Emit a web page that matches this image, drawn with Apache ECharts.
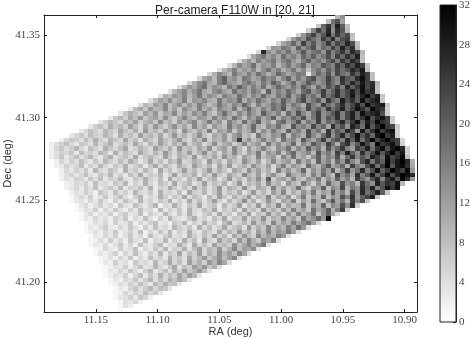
<!DOCTYPE html>
<html><head><meta charset="utf-8">
<style>html,body{margin:0;padding:0;background:#fff}#c{width:471px;height:339px}</style>
<script src="https://cdn.jsdelivr.net/npm/echarts@6/dist/echarts.min.js"></script></head>
<body><div id="c"></div><script>
const titleText='Per-camera F110W in [20, 21]';
const xName='RA (deg)', yName='Dec (deg)';
const raTicks=[11.15,11.10,11.05,11.00,10.95,10.90];
const decTicks=[41.20,41.25,41.30,41.35];
const raLimits=[10.89,11.192], decLimits=[41.182,41.3623];
const raBin=0.004, decBin=0.002658;
const colorRange=[0,32];
const rowStart=[59,57,55,53,51,49,47,45,43,41,39,37,35,33,31,29,27,25,23,21,19,17,15,13,11,9,7,5,3,1,1,1,1,2,2,3,3,3,4,4,5,5,5,6,6,7,7,8,8,8,9,9,9,10,10,11,11,12,12,12,13,13,14,14,14,15,15,15];
const rowValues=[
[9,14],
[8,18,22,12],
[7,19,25,16,28,20,8],
[6,15,24,18,27,14,26,21,9],
[6,13,19,24,16,21,28,17,25,19,23,8],
[5,12,17,14,22,18,15,24,19,27,16,22,24,7],
[5,11,14,19,13,24,16,21,14,18,25,17,23,20,27,22,8],
[5,13,12,17,15,11,20,14,18,22,13,19,16,24,18,28,21,26,9],
[5,27,14,11,16,13,18,12,15,21,14,17,19,13,23,16,20,25,18,27,23,9],
[4,11,14,17,12,15,11,18,13,16,12,19,15,20,14,17,22,15,24,19,26,21,28,8],
[4,10,13,9,16,12,14,17,11,15,18,13,10,16,20,14,17,13,19,23,16,25,20,27,24,8],
[4,9,15,11,13,18,10,14,12,16,9,13,17,12,15,19,11,16,14,21,18,15,24,19,26,22,28,24,7],
[4,9,12,16,10,13,11,15,9,14,18,12,16,10,13,17,11,15,8,14,18,13,20,16,23,18,21,27,24,29,8],
[5,10,15,12,9,17,13,11,16,12,18,14,10,13,19,15,11,14,17,16,3,13,19,15,21,14,23,18,16,25,20,28,24,8],
[5,11,13,9,16,20,12,14,10,17,15,11,13,18,14,16,10,15,20,12,17,13,19,22,14,16,24,18,15,26,21,19,27,30,24,8],
[5,10,14,17,11,9,16,19,13,12,10,15,18,14,11,17,13,20,16,10,14,19,12,15,21,17,13,16,23,18,14,25,20,27,22,29,24,26,9],
[4,9,13,11,15,18,10,14,12,9,17,13,20,15,11,16,12,18,10,14,19,15,12,17,13,21,16,11,19,14,22,18,24,16,27,20,25,30,23,27,8],
[4,9,12,15,10,13,17,11,9,14,16,12,10,18,13,15,11,17,14,9,20,12,16,13,19,15,11,18,21,14,17,24,16,20,26,19,23,28,22,30,25,27,8],
[4,10,8,13,11,15,9,12,17,10,14,12,9,16,13,11,18,14,10,15,12,19,13,11,17,14,20,12,16,22,15,18,13,24,17,21,26,19,23,29,21,27,31,24,28,7],
[4,8,12,10,14,9,11,16,8,13,12,15,10,9,17,11,14,13,19,10,15,12,18,14,11,16,13,20,15,12,18,23,14,17,21,13,25,19,16,28,22,26,20,30,24,27,29,7],
[4,9,7,12,10,15,8,11,14,9,13,10,16,12,8,11,17,13,10,15,12,19,14,9,16,11,13,18,15,20,12,17,14,10,22,16,13,24,18,15,21,26,19,23,28,22,31,25,27,29,7],
[3,8,11,7,13,9,10,15,8,12,7,14,11,9,16,10,13,8,15,12,11,17,9,14,19,13,10,16,12,18,15,21,11,14,17,13,23,16,20,15,25,18,22,28,19,24,30,26,21,31,27,25,6],
[3,7,10,8,6,12,9,13,7,11,10,15,8,12,9,14,11,16,10,7,13,18,12,9,15,11,17,13,10,20,14,12,16,9,19,13,22,15,11,18,24,14,17,21,26,16,23,28,20,30,25,27,29,22,6],
[3,7,9,6,11,8,13,7,10,12,8,14,9,6,11,15,10,8,13,12,9,16,11,14,10,18,13,8,15,12,17,11,14,20,10,16,13,19,15,22,12,17,24,14,21,18,26,16,23,28,20,25,31,22,27,30,24,6],
[3,6,9,7,5,10,8,12,6,9,11,7,14,8,10,6,13,9,12,15,8,11,17,10,13,7,16,12,9,18,11,14,20,10,13,8,16,19,12,15,22,11,17,14,24,13,19,16,21,27,18,25,30,20,28,23,31,26,24,6],
[3,6,8,5,10,7,9,6,12,8,5,11,7,13,9,6,10,14,8,11,7,15,9,12,6,13,10,8,17,11,14,9,12,19,10,8,15,13,18,11,9,21,14,16,12,23,15,19,11,26,17,22,14,28,24,18,30,21,27,32,25,23,6],
[3,5,8,6,4,9,7,5,11,8,6,10,5,13,7,9,6,12,8,10,5,14,9,7,11,8,16,6,12,10,15,7,13,9,11,18,8,14,10,17,12,9,20,13,16,11,22,14,18,10,25,15,21,17,27,23,13,29,20,26,32,24,28,30,6],
[3,5,7,4,8,6,5,9,7,4,10,6,8,5,12,7,9,6,11,5,8,13,7,10,6,9,14,8,5,11,9,13,7,12,15,8,10,6,17,11,9,14,12,19,8,16,13,10,22,15,11,18,25,14,20,27,17,23,30,21,26,19,29,32,25,28,6],
[2,5,7,6,4,8,5,10,6,4,9,7,5,11,6,8,4,10,7,5,12,8,6,9,13,7,5,11,8,15,6,10,9,13,7,12,24,9,14,8,11,16,10,13,7,18,12,15,9,21,14,11,17,24,13,19,22,16,27,20,29,18,25,31,23,28,32,26,24,5],
[2,4,6,8,5,3,7,6,4,9,5,7,10,4,6,8,5,11,7,4,9,6,12,8,5,10,7,13,6,9,11,5,8,14,7,10,12,6,9,15,8,11,13,7,17,10,14,9,12,19,8,15,11,21,16,13,24,18,10,22,26,15,20,29,23,17,31,25,27,30,24,6],
[2,5,7,4,6,9,5,3,8,6,4,10,7,5,8,11,4,6,9,7,5,12,8,6,10,5,13,7,9,6,11,8,14,6,10,12,7,15,9,5,13,8,11,16,10,7,14,12,18,9,15,11,20,13,17,10,22,14,19,25,16,12,24,21,28,18,26,30,22,29,32,27,6],
[2,4,6,5,7,3,8,5,6,4,9,7,3,10,5,8,6,4,11,7,5,9,6,13,8,5,10,7,12,6,9,14,7,10,5,11,8,15,9,6,12,10,17,7,13,11,16,8,14,19,10,12,15,9,21,13,17,11,24,16,28,20,14,26,18,23,30,21,27,32,25,29,6],
[2,4,7,3,5,8,4,6,9,5,3,7,10,4,6,8,5,11,4,7,9,6,5,12,7,4,10,8,6,13,5,9,7,11,6,14,8,10,5,12,9,7,16,8,11,13,6,15,10,18,9,12,7,14,20,11,16,13,22,10,18,25,15,21,17,28,24,19,30,23,26,31,8],
[2,5,3,6,4,8,5,3,7,4,9,6,4,8,5,10,7,3,6,11,5,8,4,9,7,12,5,6,10,8,4,13,7,9,5,11,8,6,14,10,7,12,5,9,15,8,11,13,7,17,10,14,8,20,12,16,9,19,13,23,15,11,22,27,17,25,20,31,24,29,32,27,10],
[2,3,6,4,5,8,3,6,4,9,5,3,7,5,10,4,6,8,3,7,11,5,9,6,4,10,7,5,12,8,6,9,4,11,7,13,5,8,10,6,14,9,7,12,5,11,16,8,13,10,7,18,12,9,15,21,11,14,19,10,24,16,13,22,28,18,25,32,21,29,31,26,11],
[2,5,3,6,4,7,3,9,5,4,8,6,3,10,5,7,4,9,6,3,11,5,8,4,7,12,6,9,5,8,13,6,10,7,4,11,9,6,14,8,12,7,10,5,16,9,13,8,11,19,7,14,10,17,12,21,9,15,24,13,18,27,16,22,30,20,25,32,28,24,31,13],
[2,4,6,3,5,8,4,3,7,5,9,4,6,3,8,5,11,4,7,5,9,3,6,12,5,8,7,10,4,9,6,13,7,5,11,8,6,15,9,7,12,5,10,14,8,6,17,11,9,13,7,16,10,19,12,8,23,14,18,11,26,16,21,29,19,24,31,22,28,32,30,27],
[2,4,3,6,5,3,7,4,8,3,6,5,9,4,3,7,5,10,6,4,8,3,11,5,7,4,9,6,12,5,8,10,4,7,13,6,9,5,11,8,14,7,20,6,10,12,8,15,9,7,13,11,17,8,14,10,20,12,16,9,24,18,13,22,27,15,25,29,21,31,26,13],
[2,3,5,4,6,3,8,4,5,3,7,5,9,3,6,4,10,5,3,8,6,4,11,5,7,9,4,6,12,5,8,6,10,4,7,13,5,9,7,11,6,15,8,10,5,13,9,7,17,11,6,14,8,19,12,10,22,13,16,9,25,18,14,28,21,26,24,30,9],
[2,3,5,3,6,4,8,3,5,7,4,9,3,6,5,8,4,10,3,6,5,11,7,4,8,5,12,6,9,4,7,13,5,10,8,6,14,7,5,11,9,6,16,8,12,7,10,18,9,6,13,11,20,8,15,12,23,10,17,14,26,19,28,16,22,30,25,30],
[2,4,3,6,4,2,7,5,3,8,4,6,3,9,5,4,7,3,10,5,6,4,8,3,11,6,5,9,4,7,12,5,8,6,10,4,7,13,6,9,5,12,8,15,6,10,7,14,9,17,8,12,10,20,11,16,9,23,14,27,18,22,28,20,7],
[1,3,5,3,6,2,4,7,3,5,8,4,2,6,9,3,5,4,10,6,3,7,5,11,4,8,6,3,9,5,12,7,4,10,6,8,13,5,9,7,15,6,11,8,13,5,10,17,7,12,9,19,8,14,11,22,16,26,13,20,24,28,7],
[1,3,4,2,5,3,7,4,2,6,3,8,5,3,9,4,6,3,7,5,10,3,6,4,11,5,8,4,7,12,6,3,9,5,8,14,6,10,4,7,13,8,5,11,9,16,6,12,8,18,10,7,14,21,11,17,9,24,15,22,7],
[1,3,5,2,4,6,3,5,2,7,4,3,8,5,3,6,9,2,5,4,10,6,3,7,5,11,4,6,8,3,9,5,7,12,4,8,6,13,5,10,7,15,6,11,8,9,17,7,13,10,19,8,15,12,22,14,26,6],
[1,2,4,3,6,2,5,3,7,4,2,6,3,8,4,5,2,9,3,6,4,7,3,10,5,4,8,6,11,3,7,5,9,4,12,6,8,5,14,7,10,6,13,8,16,9,12,7,18,11,14,20,10,16,24,6],
[1,3,5,2,4,3,6,2,5,7,3,4,8,2,6,4,3,9,5,3,7,4,10,5,3,6,8,4,11,5,7,3,9,6,12,4,8,6,14,7,10,5,13,8,16,9,12,18,7,14,20,11,5],
[1,3,2,5,3,4,2,6,4,7,2,5,3,8,4,2,6,3,9,5,4,3,7,10,4,6,3,8,5,11,4,7,6,12,5,9,7,14,6,10,8,15,9,12,7,17,11,14,19,13,30],
[1,2,4,3,5,2,6,3,4,7,2,5,3,6,8,3,4,2,7,5,9,3,6,4,10,5,7,3,8,12,4,6,9,5,13,7,10,6,15,8,12,9,16,11,14,18,12,5],
[1,3,2,4,6,3,2,5,3,7,4,2,6,3,8,4,5,3,9,6,4,7,3,10,5,8,4,6,11,5,7,9,4,13,6,10,7,15,8,12,9,16,11,18,13,4],
[1,2,4,2,5,3,7,2,4,6,3,8,2,5,3,7,4,9,3,6,4,10,5,3,8,6,4,11,5,9,6,13,7,10,5,12,8,15,9,13,11,17,12,4],
[1,3,2,5,3,6,2,4,7,3,5,2,8,4,3,6,9,4,5,3,10,6,4,8,5,12,6,9,4,11,7,13,8,6,15,9,12,10,16,13,4],
[1,2,4,2,6,3,5,2,7,4,3,8,2,5,4,9,3,6,4,10,5,8,3,11,6,4,12,7,9,5,13,8,15,10,7,14,11,16,4],
[1,3,2,5,2,4,7,3,5,2,8,4,3,6,9,3,5,4,10,6,3,11,5,8,4,12,7,9,6,14,8,11,15,10,13,17,4],
[1,2,5,3,2,6,3,4,8,2,5,3,7,4,9,3,6,5,10,4,8,12,5,9,7,13,6,10,15,8,12,11,14,4],
[1,3,2,4,6,2,5,3,8,4,2,6,4,9,3,7,5,11,4,8,6,12,5,10,7,14,9,12,8,15,11,4],
[1,2,4,2,5,3,7,2,5,3,8,4,6,3,10,5,7,4,11,6,9,13,7,10,14,8,12,15,4],
[1,3,2,6,3,4,2,7,4,5,3,9,4,6,11,5,8,4,12,7,10,6,13,9,15,11,4],
[1,2,4,3,6,2,5,8,3,4,9,5,3,7,11,4,8,6,12,9,13,7,10,4],
[1,3,2,5,3,7,4,2,6,9,3,5,8,4,10,6,12,7,9,13,8,3],
[1,2,4,3,6,2,5,8,3,7,4,10,5,8,6,11,7,12,9,3],
[1,3,2,5,4,7,3,6,9,4,8,5,10,7,11,8,3],
[1,2,4,3,6,4,8,5,3,9,6,10,7,8,3],
[1,3,2,5,7,4,6,9,5,8,7,3],
[1,2,5,3,6,4,8,5,7,3],
[1,3,4,6,3,7,5,2],
[1,4,3,5,2],
[1,4,2],
[1]
];
const cells=[];
rowValues.forEach((row,j)=>row.forEach((v,k)=>{
  cells.push([raLimits[1]-(rowStart[j]+k)*raBin, decLimits[1]-j*decBin, v]);
}));
const tickColor='#222', labelColor='#444', serif='"Liberation Serif",serif', sans='"Liberation Sans",sans-serif';
const chart=echarts.init(document.getElementById('c'),null,{renderer:'canvas'});
const fmt=v=>Number(v).toFixed(2);
chart.setOption({
  animation:false,
  backgroundColor:'#fff',
  title:{text:titleText,left:230,top:0,textAlign:'center',textStyle:{fontFamily:sans,fontWeight:'normal',fontSize:12,color:'#222'}},
  grid:[{left:44,top:15,width:373,height:297,outerBoundsMode:'none'},{left:440,top:5,width:16,height:317,outerBoundsMode:'none'}],
  visualMap:{show:false,seriesIndex:0,dimension:2,min:colorRange[0],max:colorRange[1],inRange:{color:['#ffffff','#000000']}},
  xAxis:[
    {type:'value',gridIndex:0,inverse:true,min:raLimits[0],max:raLimits[1],position:'bottom',splitLine:{show:false},
     axisLine:{onZero:false,lineStyle:{color:tickColor,width:1}},
     axisTick:{inside:true,length:3,customValues:raTicks,lineStyle:{color:tickColor}},
     axisLabel:{customValues:raTicks,formatter:fmt,margin:3,fontFamily:serif,fontSize:11,color:labelColor,hideOverlap:false,showMinLabel:true,showMaxLabel:true},
     name:xName,nameLocation:'middle',nameGap:14,nameMoveOverlap:false,nameTextStyle:{fontFamily:sans,fontSize:11,color:'#333'}},
    {type:'value',gridIndex:0,inverse:true,min:raLimits[0],max:raLimits[1],position:'top',splitLine:{show:false},
     axisLine:{onZero:false,lineStyle:{color:tickColor,width:1}},
     axisTick:{inside:true,length:3,customValues:raTicks,lineStyle:{color:tickColor}},axisLabel:{show:false}},
    {type:'value',gridIndex:1,min:0,max:1,show:false}
  ],
  yAxis:[
    {type:'value',gridIndex:0,min:decLimits[0],max:decLimits[1],position:'left',splitLine:{show:false},
     axisLine:{onZero:false,lineStyle:{color:tickColor,width:1}},
     axisTick:{inside:true,length:3,customValues:decTicks,lineStyle:{color:tickColor}},
     axisLabel:{customValues:decTicks,formatter:fmt,margin:4,fontFamily:serif,fontSize:11,color:labelColor},
     name:yName,nameLocation:'middle',nameRotate:90,nameGap:31,nameMoveOverlap:false,nameTextStyle:{fontFamily:sans,fontSize:11,color:'#333'}},
    {type:'value',gridIndex:0,min:decLimits[0],max:decLimits[1],position:'right',splitLine:{show:false},
     axisLine:{onZero:false,lineStyle:{color:tickColor,width:1}},
     axisTick:{inside:true,length:3,customValues:decTicks,lineStyle:{color:tickColor}},axisLabel:{show:false}},
    {type:'value',gridIndex:1,min:colorRange[0],max:colorRange[1],interval:4,position:'right',splitLine:{show:false},
     axisLine:{show:true,onZero:false,lineStyle:{color:tickColor,width:1}},
     axisTick:{show:true,inside:true,length:3,lineStyle:{color:tickColor}},
     axisLabel:{margin:3,fontFamily:serif,fontSize:11,color:labelColor}}
  ],
  series:[
    {type:'custom',xAxisIndex:0,yAxisIndex:0,data:cells,clip:true,encode:{x:0,y:1},
     renderItem(params,api){
       const a=api.coord([api.value(0),api.value(1)]);
       const b=api.coord([api.value(0)-raBin,api.value(1)-decBin]);
       const x0=Math.round(a[0]),y0=Math.round(a[1]),x1=Math.round(b[0]),y1=Math.round(b[1]);
       return {type:'rect',shape:{x:x0,y:y0,width:x1-x0,height:y1-y0},style:{fill:api.visual('color')}};
     }},
    {type:'custom',xAxisIndex:2,yAxisIndex:2,data:[[0,colorRange[1]]],encode:{x:0,y:1},z:1,
     renderItem(params,api){
       const a=api.coord([0,colorRange[1]]), b=api.coord([1,colorRange[0]]);
       return {type:'rect',shape:{x:a[0],y:a[1],width:b[0]-a[0],height:b[1]-a[1]},
         style:{fill:new echarts.graphic.LinearGradient(0,0,0,1,[{offset:0,color:'#000'},{offset:1,color:'#fff'}]),stroke:tickColor,lineWidth:1}};
     }}
  ]
});
</script></body></html>
